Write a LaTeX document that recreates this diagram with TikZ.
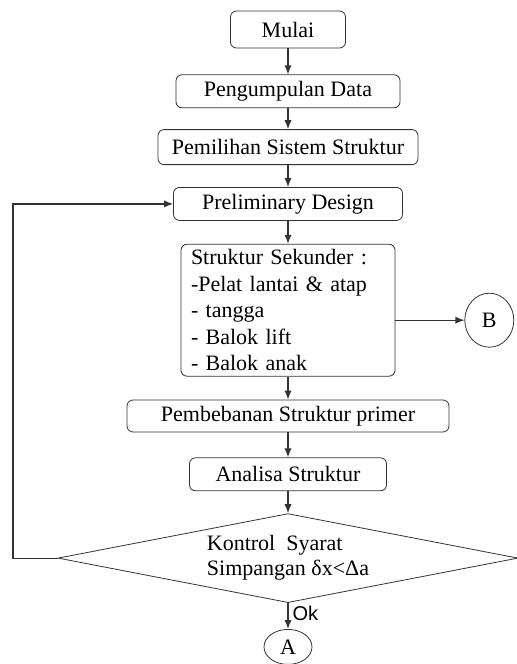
\documentclass[tikz,border=0pt]{standalone}
\usepackage{fontspec}
\setmainfont{Liberation Serif}
\setsansfont{Liberation Sans}
\usetikzlibrary{shapes,arrows,arrows.meta,positioning}

\begin{document}
\begin{tikzpicture}[node distance=11pt, auto,
    proses/.style={rectangle, draw=black!80, rounded corners=3pt, text centered, inner sep=0pt, font=\fontsize{11}{13.25}\selectfont},
    keputusan/.style={diamond, draw=black!80, inner sep=0pt, aspect=5.17, minimum width=230pt, minimum height=44.5pt, align=left, font=\fontsize{11}{12.5}\selectfont},
    konektor/.style={ellipse, draw=black!80, inner sep=0pt, font=\fontsize{11}{13}\selectfont},
    arrow/.style={->, >={Latex[length=4.5pt,width=3.6pt]}, draw=black!80, line width=0.6pt}]

    \useasboundingbox (0,0) rectangle (258.5pt,-332pt);

    \node[proses, minimum width=57.5pt, minimum height=18.5pt] (mulai) at (144pt,-14.75pt) {Mulai};
    \node[proses, minimum width=112pt, minimum height=16.5pt, below=13pt of mulai] (data) {Pengumpulan Data};
    \node[proses, minimum width=130pt, minimum height=17.5pt, below=10.5pt of data] (sistem) {Pemilihan Sistem Struktur};
    \node[proses, minimum width=114.5pt, minimum height=16.5pt, below=11pt of sistem] (prelim) {Preliminary Design};
    \node[proses, text width=97pt, inner xsep=5pt, minimum height=66pt, align=left, below=11.5pt of prelim] (sekunder) {Struktur Sekunder :\\-Pelat lantai \& atap\\- tangga\\- Balok lift\\- Balok anak};
    \node[proses, minimum width=161pt, minimum height=16pt, below=11.5pt of sekunder] (beban) {Pembebanan Struktur primer};
    \node[proses, minimum width=98.5pt, minimum height=16.5pt, below=12.5pt of beban] (analisa) {Analisa Struktur};
    \node[keputusan, below=11pt of analisa] (kontrol) {Kontrol\ \ Syarat\\Simpangan δx<Δa};
    \node[konektor, minimum width=24pt, minimum height=17.5pt, below=13pt of kontrol] (A) {A};
    \node[konektor, minimum width=24.5pt, minimum height=27pt, right=34.5pt of sekunder, yshift=-5pt] (B) {B};
    \coordinate (kiri) at (6.5pt,0);

    \draw[arrow] (mulai) -- (data);
    \draw[arrow] (data) -- (sistem);
    \draw[arrow] (sistem) -- (prelim);
    \draw[arrow] (prelim) -- (sekunder);
    \draw[arrow] (sekunder) -- (beban);
    \draw[arrow] (beban) -- (analisa);
    \draw[arrow] (analisa) -- (kontrol);
    \draw[arrow] (kontrol) -- node[pos=0.4, right, inner sep=2pt, font=\sffamily\fontsize{10}{12}\selectfont] {Ok} (A);
    \draw[arrow] (sekunder.east |- B) -- (B);
    \draw[arrow] (kontrol.west) -- (kontrol.west -| kiri) |- (prelim.west);
\end{tikzpicture}
\end{document}
